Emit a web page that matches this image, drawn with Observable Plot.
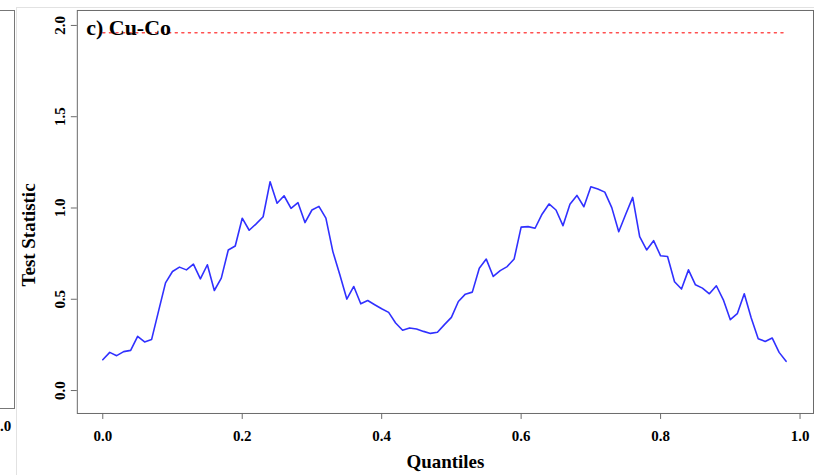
<!DOCTYPE html>
<html><head><meta charset="utf-8">
<script src="https://cdn.jsdelivr.net/npm/d3@7"></script>
<script src="https://cdn.jsdelivr.net/npm/@observablehq/plot@0.6"></script>
<style>
html,body{margin:0;padding:0;background:#fff;overflow:hidden;width:814px;height:475px;}
#wrap{position:relative;width:814px;height:475px;overflow:hidden;}
#chart{position:absolute;left:0;top:0;}
.edge{position:absolute;box-sizing:border-box;}
</style></head><body>
<div id="wrap">
<div class="edge" style="left:16px;top:7px;width:800px;height:470px;border-left:1px solid #e2e2e2;border-top:1px solid #e2e2e2;"></div>
<div class="edge" style="left:-10px;top:10px;width:25px;height:399px;border-right:1px solid #777;border-top:1px solid #777;border-bottom:1px solid #777;"></div>
<div class="edge" style="left:0px;top:418px;font:bold 15px 'Liberation Serif',serif;line-height:16px;">.0</div>
<div id="chart"></div>
</div>
<script>
const quantiles = [0.00,0.01,0.02,0.03,0.04,0.05,0.06,0.07,0.08,0.09,
  0.10,0.11,0.12,0.13,0.14,0.15,0.16,0.17,0.18,0.19,
  0.20,0.21,0.22,0.23,0.24,0.25,0.26,0.27,0.28,0.29,
  0.30,0.31,0.32,0.33,0.34,0.35,0.36,0.37,0.38,0.39,
  0.40,0.41,0.42,0.43,0.44,0.45,0.46,0.47,0.48,0.49,
  0.50,0.51,0.52,0.53,0.54,0.55,0.56,0.57,0.58,0.59,
  0.60,0.61,0.62,0.63,0.64,0.65,0.66,0.67,0.68,0.69,
  0.70,0.71,0.72,0.73,0.74,0.75,0.76,0.77,0.78,0.79,
  0.80,0.81,0.82,0.83,0.84,0.85,0.86,0.87,0.88,0.89,
  0.90,0.91,0.92,0.93,0.94,0.95,0.96,0.97,0.98];
const testStat = [0.169,0.209,0.191,0.213,0.220,0.297,0.266,0.279,0.435,0.590,
  0.652,0.676,0.661,0.692,0.612,0.689,0.548,0.616,0.770,0.792,
  0.944,0.878,0.913,0.952,1.144,1.026,1.067,0.998,1.029,0.920,
  0.989,1.009,0.944,0.761,0.634,0.501,0.570,0.475,0.493,0.470,
  0.448,0.428,0.370,0.330,0.343,0.337,0.324,0.313,0.319,0.361,
  0.401,0.488,0.528,0.539,0.670,0.720,0.625,0.657,0.679,0.721,
  0.895,0.898,0.889,0.966,1.022,0.989,0.903,1.020,1.069,1.007,
  1.116,1.104,1.087,1.002,0.870,0.966,1.058,0.843,0.770,0.821,
  0.738,0.734,0.596,0.556,0.661,0.579,0.561,0.530,0.574,0.497,
  0.388,0.421,0.530,0.397,0.284,0.269,0.288,0.209,0.160];
const criticalValue = 1.96;
const xTicks = [0, 0.2, 0.4, 0.6, 0.8, 1.0];
const yTicks = [0, 0.5, 1.0, 1.5, 2.0];
const panelTitle = "c) Cu-Co";
const xLabel = "Quantiles";
const yLabel = "Test Statistic";

const rows = quantiles.map((q, i) => ({q, stat: testStat[i], crit: criticalValue}));
const fmt = d => d.toFixed(1);
const axisColor = "#6a6a6a";

const chart = Plot.plot({
  width: 816, height: 475,
  marginLeft: 77, marginRight: 1, marginTop: 10, marginBottom: 61,
  style: {fontFamily: "'Liberation Serif','Times New Roman',serif", fontWeight: "bold", fontSize: "15px", color: "#000", background: "transparent"},
  x: {domain: [-0.0365, 1.0193]},
  y: {domain: [-0.1257, 2.082]},
  marks: [
    Plot.axisX({ticks: xTicks, tickFormat: fmt, tickSize: 6, tickPadding: 11, stroke: axisColor, label: null}),
    Plot.axisY({ticks: yTicks, tickFormat: fmt, tickSize: 6, tickPadding: 6, tickRotate: -90, stroke: axisColor, label: null}),
    Plot.frame({stroke: axisColor}),
    Plot.line(rows, {x: "q", y: "crit", stroke: "#ff5050", strokeWidth: 1.3, strokeDasharray: "2.2,4.4"}),
    Plot.line(rows, {x: "q", y: "stat", stroke: "#3030ff", strokeWidth: 1.6}),
    Plot.text([panelTitle], {frameAnchor: "top-left", textAnchor: "start", lineAnchor: "top", dx: 9, dy: 9, fontSize: 22}),
    Plot.text([xLabel], {frameAnchor: "bottom", textAnchor: "middle", lineAnchor: "bottom", dy: 55, fontSize: 19}),
    Plot.text([yLabel], {frameAnchor: "left", textAnchor: "middle", lineAnchor: "middle", rotate: -90, dx: -49, dy: 23, fontSize: 19})
  ]
});
document.getElementById("chart").appendChild(chart);
</script>
</body></html>
